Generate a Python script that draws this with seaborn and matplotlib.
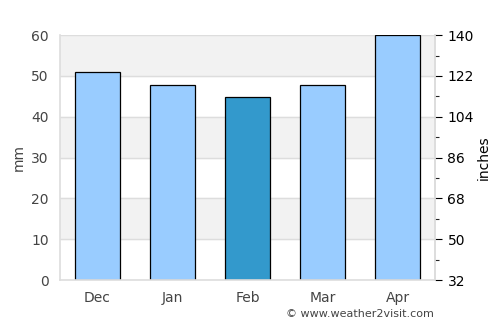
import numpy as np
import pandas as pd
import matplotlib
matplotlib.use("Agg")
import matplotlib.pyplot as plt
import seaborn as sns

# Monthly rainfall values
months = ["Dec", "Jan", "Feb", "Mar", "Apr"]
rain_mm = [50.9, 47.7, 44.8, 47.7, 60.0]
bar_colors = ["#99ccff", "#99ccff", "#3399cc", "#99ccff", "#99ccff"]
right_ticks = [32, 50, 68, 86, 104, 122, 140]
right_minor = [41, 59, 77, 95, 113, 131]

df = pd.DataFrame({"month": months, "mm": rain_mm})

sns.set_style("white")
plt.rcParams['font.family'] = ['DejaVu Sans']

fig = plt.figure(figsize=(5, 3.25), dpi=100)
ax = fig.add_axes([0.12, 0.138, 0.75, 0.754])

# alternating grey bands
for lo in range(10, 60, 20):
    ax.axhspan(lo, lo + 10, color="#f2f2f2", zorder=0)
for y in range(10, 61, 10):
    ax.axhline(y, color="#dddddd", lw=1, zorder=0.5)

sns.barplot(data=df, x="month", y="mm", hue="month", palette=bar_colors,
            legend=False, width=0.6, edgecolor="black", linewidth=0.9,
            saturation=1, ax=ax, zorder=2)

ax.set_xlim(-0.5, 4.5)
ax.set_ylim(0, 60)
ax.set_yticks(range(0, 61, 10))
ax.set_xlabel("")
ax.set_ylabel("mm", color="#444444", fontsize=10)
ax.tick_params(axis="both", length=0, labelsize=10, colors="#444444", pad=8)
ax.spines["top"].set_visible(False)
for side in ["left", "bottom", "right"]:
    ax.spines[side].set_color("#dddddd")
    ax.spines[side].set_linewidth(1.2)

ax2 = ax.twinx()
ax2.set_ylim(32, 140)
ax2.set_yticks(right_ticks)
ax2.set_yticks(right_minor, minor=True)
ax2.tick_params(axis="y", which="major", length=5, width=0.8, labelsize=10,
                colors="black", pad=4)
ax2.tick_params(axis="y", which="minor", length=3, width=0.8)
ax2.set_ylabel("inches", fontsize=10, color="black", labelpad=2)
for side in ["top", "left", "bottom"]:
    ax2.spines[side].set_visible(False)
ax2.spines["right"].set_color("#dddddd")
ax2.spines["right"].set_linewidth(1.2)

fig.text(0.72, 0.035, "© www.weather2visit.com", ha="center", va="center",
         fontsize=8, color="#444444")

fig.savefig("out.png", dpi=100)
